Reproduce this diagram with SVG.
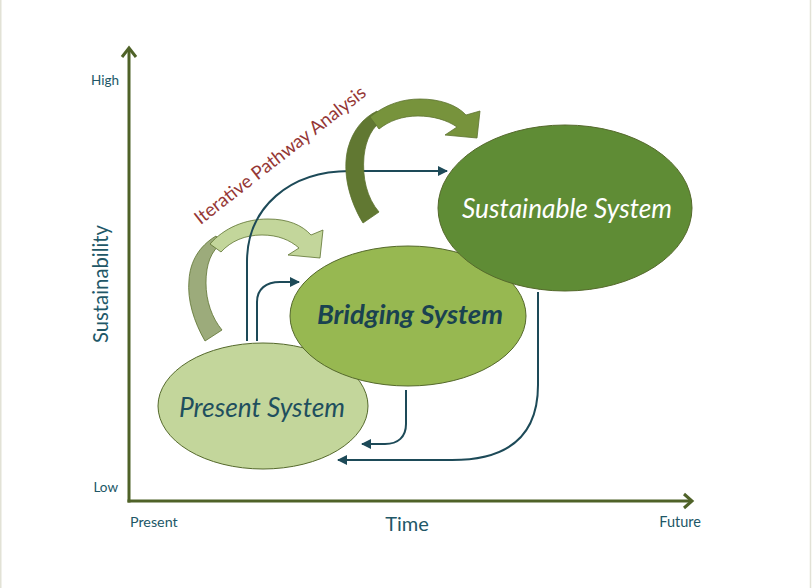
<svg xmlns="http://www.w3.org/2000/svg" width="812" height="588" viewBox="0 0 812 588">
  <defs>
    <marker id="tri" viewBox="0 0 10 10" refX="9" refY="5" markerWidth="10" markerHeight="10" markerUnits="userSpaceOnUse" orient="auto">
      <path d="M0,0 L10,5 L0,10 Z" fill="#1d4a58"/>
    </marker>
  </defs>
  <style>
    .lbl { font-family: Lato, "Liberation Sans", sans-serif; fill: #215767; }
    .axis { stroke: #4f6228; stroke-width: 3; fill: none; }
    .conn { stroke: #1d4a58; stroke-width: 2; fill: none; marker-end: url(#tri); }
    .node ellipse { stroke: #55692c; stroke-width: 1; }
    .node text { font-family: Lato, "Liberation Sans", sans-serif; font-style: italic; text-anchor: middle; }
    .sweep { stroke: #5d7230; stroke-width: 0.8; }
  </style>

  <rect width="812" height="588" fill="#ffffff"/>
  <!-- page frame -->
  <line x1="0.75" y1="0" x2="0.75" y2="588" stroke="#e2e2d6" stroke-width="1.5"/>
  <line x1="810.5" y1="0" x2="810.5" y2="588" stroke="#e2e2d6" stroke-width="1.5"/>

  <!-- axes -->
  <g id="axes">
    <line class="axis" x1="129" y1="502.5" x2="129" y2="49"/>
    <polyline class="axis" points="122,57 129,48 136,57"/>
    <line class="axis" x1="127.5" y1="501" x2="691" y2="501"/>
    <polyline class="axis" points="684,494 692,501 684,508"/>
    <text class="lbl" x="119" y="85" font-size="13.5" text-anchor="end">High</text>
    <text class="lbl" x="118" y="492" font-size="13.5" text-anchor="end">Low</text>
    <text class="lbl" x="130" y="527" font-size="14.3">Present</text>
    <text class="lbl" x="407" y="531" font-size="20" text-anchor="middle">Time</text>
    <text class="lbl" x="701" y="527" font-size="14.5" text-anchor="end">Future</text>
    <text class="lbl" transform="translate(108,284) rotate(-90)" font-size="20.3" text-anchor="middle">Sustainability</text>
  </g>

  <!-- small iteration sweep -->
  <g id="sweep-small" class="sweep">
    <path fill="#9cab7b" d="M205,341 C194,322 187,300 189,280 C190,262 199,246 216,236 L222,243 C211,251 206,264 206,283 C206,301 212,318 222,330 Z"/>
    <path fill="#c3d69b" d="M210,244 C224,228 245,219 268,219 C288,219 302,225 311,235 L323,230 L320,258 L288,255 L299,248 C290,240 278,235 262,235 C245,235 231,241 221,252 Z"/>
  </g>

  <!-- connectors -->
  <g id="connectors">
    <path class="conn" d="M247,341 L247,262 C247,207 290,171 350,171 L447,171"/>
    <path class="conn" d="M257,341 L257,302 C257,289 266,282 280,282 L299,282"/>
    <path class="conn" d="M406,390 L406,424 C406,437 398,444 385,444 L362,444"/>
    <path class="conn" d="M538,292 L538,385 C538,432 512,460 452,460 L338,460"/>
  </g>

  <!-- large iteration sweep -->
  <g id="sweep-large" class="sweep">
    <path fill="#617832" d="M363,223 C349,200 342,172 348,148 C353,130 363,118 377,111 L384,119 C372,127 366,139 364,156 C362,178 367,198 379,212 Z"/>
    <path fill="#77933c" d="M370,117 C386,104 403,99 420,99 C440,99 457,105 466,115 L480,111 L477,138 L445,135 L457,127 C447,120 433,116 418,116 C402,116 389,121 379,129 Z"/>
  </g>

  <text class="lbl" transform="translate(284,160) rotate(-38)" font-size="18.5" text-anchor="middle" style="fill:#953735">Iterative Pathway Analysis</text>

  <!-- systems -->
  <g id="present" class="node">
    <ellipse cx="263" cy="406" rx="105" ry="63" fill="#c3d69b"/>
    <text x="262" y="417" font-size="26.3" fill="#1f4f5e">Present System</text>
  </g>
  <g id="bridging" class="node">
    <ellipse cx="408" cy="316" rx="118" ry="70" fill="#97b851"/>
    <text x="410" y="324" font-size="27.5" font-weight="bold" fill="#1a4250">Bridging System</text>
  </g>
  <g id="sustainable" class="node">
    <ellipse cx="565" cy="208" rx="127" ry="83" fill="#5f8c35"/>
    <text x="567" y="218" font-size="26.3" fill="#ffffff">Sustainable System</text>
  </g>
</svg>
